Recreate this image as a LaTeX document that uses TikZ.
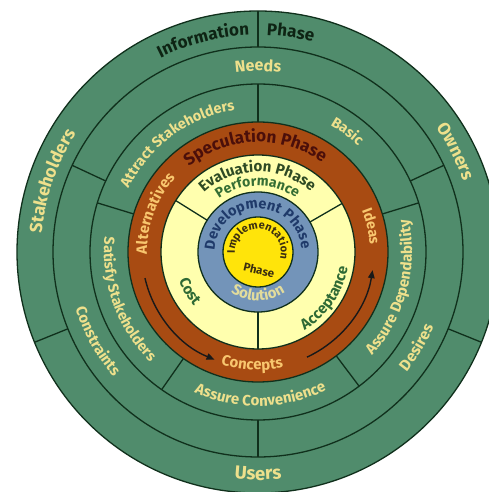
\documentclass[tikz,border=0pt]{standalone}
\usepackage{fontspec}
\setmainfont{Fira Sans}
\usetikzlibrary{decorations.text,arrows.meta}
\definecolor{ringgreen}{HTML}{508C6C}
\definecolor{ringline}{HTML}{10301C}
\definecolor{specbrown}{HTML}{A84B12}
\definecolor{evalpale}{HTML}{FFFFAE}
\definecolor{devblue}{HTML}{7394B9}
\definecolor{coreyellow}{HTML}{FFE40A}
\definecolor{txtlight}{HTML}{EEE08C}
\definecolor{txtinfo}{HTML}{0E2414}
\definecolor{txtspec}{HTML}{4B0F0A}
\definecolor{txtorange}{HTML}{F8C66E}
\definecolor{txteval}{HTML}{2E4A24}
\definecolor{txtperf}{HTML}{356E34}
\definecolor{txtgreen}{HTML}{2F6A35}
\definecolor{txtdev}{HTML}{1F3A6A}
\definecolor{txtsol}{HTML}{E2DC9C}
\definecolor{txtimpl}{HTML}{3C3010}
% clockwise text (reads over the top / tops outward)
\newcommand\cwtext[6]{\path[decorate,decoration={text along path,text align=center,text color=#4,text={|\fontsize{#3}{#3}\selectfont\bfseries|#5}}] (#1+#6:#2pt) arc[start angle=#1+#6,end angle=#1-#6,radius=#2pt];}
% counter-clockwise text (reads along the bottom / tops inward)
\newcommand\ccwtext[6]{\path[decorate,decoration={text along path,text align=center,text color=#4,text={|\fontsize{#3}{#3}\selectfont\bfseries|#5}}] (#1-#6:#2pt) arc[start angle=#1-#6,end angle=#1+#6,radius=#2pt];}
\tikzset{
  ringedge/.style={draw=ringline,line width=1.3pt},
  divider/.style={draw=ringline,line width=1.3pt},
  cycarrow/.style={draw=black!90,line width=1.4pt,-{Triangle[length=8pt,width=6.5pt]}}
}
\begin{document}
\begin{tikzpicture}[x=1pt,y=1pt]
\useasboundingbox (0,0) rectangle (489,492);
\clip (0,0) rectangle (489,492);
\fill[white] (0,0) rectangle (489,492);
\begin{scope}[shift={(258,240)}]
\coordinate (C) at (0,0);
% rings
\fill[ringgreen] (C) circle[radius=241pt];
\draw[ringedge] (C) circle[radius=241pt];
\draw[ringedge] (C) circle[radius=205pt];
\draw[ringedge] (C) circle[radius=168pt];
\fill[specbrown] (C) circle[radius=130pt];
\draw[ringedge] (C) circle[radius=130pt];
\fill[evalpale] (C) circle[radius=97pt];
\draw[ringedge] (C) circle[radius=97pt];
\fill[devblue] (C) circle[radius=60pt];
\draw[ringedge] (C) circle[radius=60pt];
\fill[coreyellow] (C) circle[radius=35pt];
\draw[ringedge] (C) circle[radius=35pt];
% dividers
\foreach \a in {90,202,338} \draw[divider] (\a:205pt) -- (\a:241pt);
\foreach \a in {25,155,270} \draw[divider] (\a:168pt) -- (\a:205pt);
\foreach \a in {17,90,163,235,307} \draw[divider] (\a:130pt) -- (\a:168pt);
\foreach \a in {30,148,270} \draw[divider] (\a:60pt) -- (\a:97pt);
% outer ring
\cwtext{104.5}{217}{17}{txtinfo}{Information}{40}
\cwtext{81.5}{217}{17}{txtinfo}{Phase}{30}
\cwtext{161}{217}{17.5}{txtlight}{Stakeholders}{40}
\cwtext{27}{217}{17.5}{txtlight}{Owners}{30}
\ccwtext{270}{228}{18.5}{txtlight}{Users}{30}
% needs ring
\cwtext{90}{181}{16}{txtlight}{Needs}{30}
\ccwtext{209}{191}{15}{txtlight}{Constraints}{40}
\ccwtext{329}{191}{15.5}{txtlight}{Desires}{30}
% stakeholder ring
\cwtext{126.6}{144}{14.5}{txtlight}{Attract Stakeholders}{50}
\cwtext{53.5}{146}{14.5}{txtlight}{Basic}{30}
\ccwtext{200}{154}{14.5}{txtlight}{Satisfy Stakeholders}{50}
\ccwtext{271}{154}{15}{txtlight}{Assure Convenience}{50}
\ccwtext{345}{154}{15}{txtlight}{Assure Dependability}{55}
% speculation ring
\cwtext{91.5}{110}{17}{txtspec}{Speculation Phase}{70}
\cwtext{12.8}{112}{14.5}{txtorange}{Ideas}{30}
\ccwtext{267}{118}{15}{txtorange}{Concepts}{40}
\cwtext{159.5}{111}{15}{txtorange}{Alternatives}{45}
\draw[cycarrow] (193:116pt) arc[start angle=193,end angle=248,radius=116pt];
\draw[cycarrow] (295:116pt) arc[start angle=295,end angle=351,radius=116pt];
% evaluation ring
\cwtext{90.5}{80}{15}{txteval}{Evaluation Phase}{80}
\cwtext{90.5}{66}{14}{txtperf}{Performance}{75}
\ccwtext{210}{84}{15}{txtgreen}{Cost}{30}
\ccwtext{325.6}{91}{15}{txtgreen}{Acceptance}{50}
% development ring
\cwtext{90.5}{43.5}{14.5}{txtdev}{Development Phase}{110}
\ccwtext{270}{48.5}{15}{txtsol}{Solution}{60}
% core
\cwtext{83}{23}{11}{txtimpl}{Implementation}{115}
\node[rotate=-13,text=txtimpl,font=\fontsize{11.5}{11.5}\selectfont\bfseries] (corephase) at (1,-18) {Phase};
\end{scope}
\end{tikzpicture}
\end{document}
